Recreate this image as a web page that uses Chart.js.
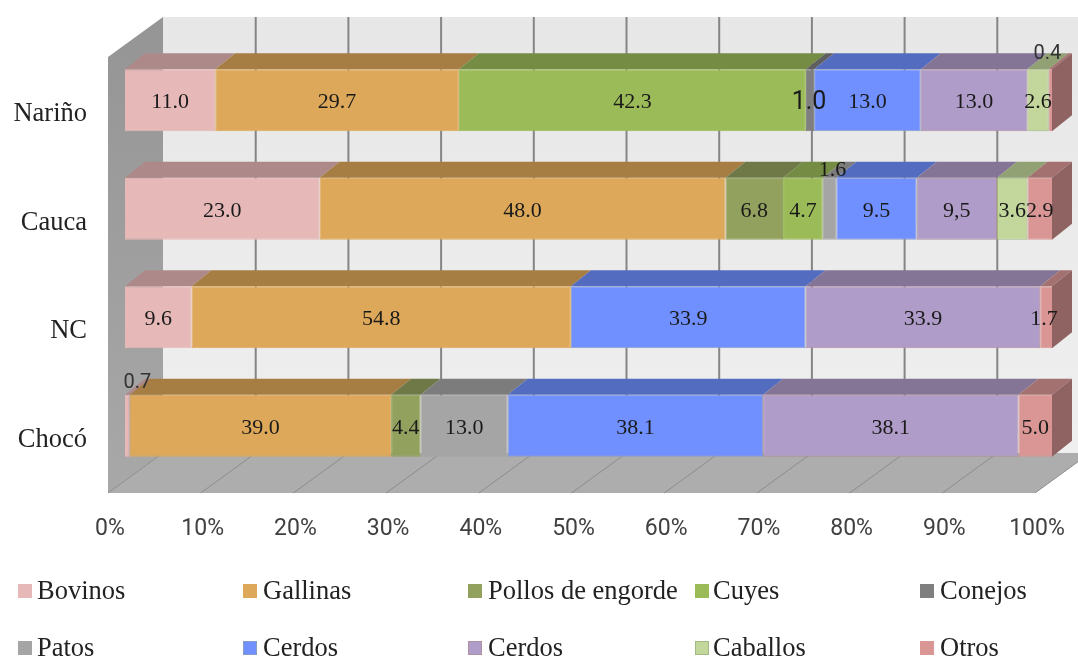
<!DOCTYPE html>
<html>
<head>
<meta charset="utf-8">
<script src="https://cdn.jsdelivr.net/npm/chart.js@4"></script>
<style>
  html, body { margin: 0; padding: 0; background: #fff; overflow: hidden; }
  #wrap { position: relative; width: 1078px; height: 660px; }
  #legend span { position: absolute; font: 26.5px "Liberation Serif", serif; color: #222; line-height: 30px; white-space: nowrap; }
  #legend i { position: absolute; width: 14px; height: 14px; box-sizing: border-box; }
</style>
</head>
<body>
<div id="wrap">
  <canvas id="chart" width="1078" height="660"></canvas>
  <div id="legend"></div>
</div>
<script>
const departments = ['Nariño', 'Cauca', 'NC', 'Chocó'];
const xTicks = [0, 10, 20, 30, 40, 50, 60, 70, 80, 90, 100];

// values as printed on the bars, the bars are 100% stacked per row
const bovinos = [11.0, 23.0, 9.6, 0.7];
const gallinas = [29.7, 48.0, 54.8, 39.0];
const pollos = [0, 6.8, 0, 4.4];
const cuyes = [42.3, 4.7, 0, 0];
const conejos = [1.0, 0, 0, 0];
const patos = [0, 1.6, 0, 13.0];
const cerdos = [13.0, 9.5, 33.9, 38.1];
const cerdos2 = [13.0, 9.5, 33.9, 38.1];
const caballos = [2.6, 3.6, 0, 0];
const otros = [0.4, 2.9, 1.7, 5.0];

const seriesNames = ['Bovinos', 'Gallinas', 'Pollos de engorde', 'Cuyes', 'Conejos', 'Patos', 'Cerdos', 'Cerdos', 'Caballos', 'Otros'];
const seriesValues = [bovinos, gallinas, pollos, cuyes, conejos, patos, cerdos, cerdos2, caballos, otros];
const seriesColors = ['#E6B8B7', '#DDA85A', '#93A15F', '#9BBB59', '#7F7F7F', '#A5A5A5', '#7090FF', '#B09CC8', '#C3D69B', '#D99694'];
const seriesBorders = ['#E6B8B7', '#DDA85A', '#93A15F', '#9BBB59', '#7F7F7F', '#A5A5A5', '#8A9CC8', '#B08F9E', '#A3B87F', '#D99694'];

const rowTotals = departments.map((d, row) => seriesValues.reduce((sum, s) => sum + s[row], 0));

// 3d look of the old office chart
const barDepth = { x: 20, y: 16 };
const wall = { frontX: -17, backX: 38, top: 17, floorFront: 493, floorBack: 453, leftTop: 57 };

function shade(hex, f) {
  const n = parseInt(hex.slice(1), 16);
  const r = Math.round((n >> 16) * f), g = Math.round(((n >> 8) & 255) * f), b = Math.round((n & 255) * f);
  return 'rgb(' + r + ',' + g + ',' + b + ')';
}

function poly(ctx, pts, fill) {
  ctx.beginPath();
  pts.forEach((p, i) => i ? ctx.lineTo(p[0], p[1]) : ctx.moveTo(p[0], p[1]));
  ctx.closePath();
  ctx.fillStyle = fill;
  ctx.fill();
}

const box3d = {
  id: 'box3d',
  beforeDatasetsDraw(chart) {
    const ctx = chart.ctx, x = chart.scales.x;
    const x0 = x.getPixelForValue(0), x1 = x.getPixelForValue(100);

    ctx.save();
    // back wall
    let g = ctx.createLinearGradient(0, wall.top, 0, wall.floorBack);
    g.addColorStop(0, '#E7E7E7');
    g.addColorStop(1, '#EFEFEF');
    poly(ctx, [[x0 + wall.backX, wall.top], [x1 + wall.backX, wall.top], [x1 + wall.backX, wall.floorBack], [x0 + wall.backX, wall.floorBack]], g);
    // left wall
    g = ctx.createLinearGradient(0, wall.top, 0, wall.floorFront);
    g.addColorStop(0, '#959595');
    g.addColorStop(1, '#A8A8A8');
    poly(ctx, [[x0 + wall.frontX, wall.leftTop], [x0 + wall.backX, wall.top], [x0 + wall.backX, wall.floorBack], [x0 + wall.frontX, wall.floorFront]], g);
    // floor
    poly(ctx, [[x0 + wall.frontX, wall.floorFront], [x1 + wall.frontX, wall.floorFront], [x1 + wall.backX, wall.floorBack], [x0 + wall.backX, wall.floorBack]], '#ADADAD');

    // grid lines, wall and floor
    xTicks.forEach(t => {
      const px = x.getPixelForValue(t);
      if (t > 0) {
        ctx.strokeStyle = '#858585';
        ctx.lineWidth = 2;
        ctx.beginPath();
        ctx.moveTo(px + wall.backX, wall.top);
        ctx.lineTo(px + wall.backX, wall.floorBack);
        ctx.stroke();
      }
      ctx.strokeStyle = '#8C8C8C';
      ctx.lineWidth = 1;
      ctx.beginPath();
      ctx.moveTo(px + wall.frontX, wall.floorFront);
      ctx.lineTo(px + wall.backX, wall.floorBack);
      ctx.stroke();
    });

    // top and end faces of the bars
    seriesValues.forEach((s, i) => {
      chart.getDatasetMeta(i).data.forEach((bar, row) => {
        if (!s[row]) return;
        const top = bar.y - bar.height / 2, bottom = bar.y + bar.height / 2;
        poly(ctx, [[bar.base, top], [bar.x, top], [bar.x + barDepth.x, top - barDepth.y], [bar.base + barDepth.x, top - barDepth.y]], shade(seriesColors[i], 0.75));
        const isLast = seriesValues.slice(i + 1).every(v => !v[row]);
        if (isLast) {
          poly(ctx, [[bar.x, top], [bar.x + barDepth.x, top - barDepth.y], [bar.x + barDepth.x, bottom - barDepth.y], [bar.x, bottom]], shade(seriesColors[i], 0.66));
        }
      });
    });
    ctx.restore();
  }
};

const serif22 = '22px "Liberation Serif", serif';
// labels that sit off their segment in the original, key is series:row
const labelTweaks = {
  '4:0': { dx: -1, dy: 0, font: '25px Roboto, sans-serif' },
  '9:0': { dx: -3, dy: -48, font: '20px Roboto, sans-serif', color: '#333' },
  '5:1': { dx: 3, dy: -41, font: '22px "Liberation Serif", serif' },
  '0:3': { dx: 10, dy: -45, font: '20px Roboto, sans-serif', color: '#333' },
  '9:2': { dx: -2 },
  '7:1': { text: '9,5' }
};

const barLabels = {
  id: 'barLabels',
  afterDatasetsDraw(chart) {
    const ctx = chart.ctx;
    ctx.save();
    ctx.textAlign = 'center';
    ctx.textBaseline = 'middle';
    seriesValues.forEach((s, i) => {
      chart.getDatasetMeta(i).data.forEach((bar, row) => {
        if (!s[row]) return;
        const tweak = labelTweaks[i + ':' + row] || {};
        ctx.font = tweak.font || serif22;
        ctx.fillStyle = tweak.color || '#1a1a1a';
        const text = tweak.text || s[row].toFixed(1);
        ctx.fillText(text, (bar.x + bar.base) / 2 + (tweak.dx || 0), bar.y + 2 + (tweak.dy || 0));
      });
    });
    ctx.restore();
  }
};

const chart = new Chart(document.getElementById('chart'), {
  type: 'bar',
  data: {
    labels: departments,
    datasets: seriesValues.map((s, i) => ({
      label: seriesNames[i],
      data: s.map((v, row) => v / rowTotals[row] * 100),
      backgroundColor: seriesColors[i],
      borderColor: seriesBorders[i],
      borderWidth: 1,
      borderSkipped: false,
      categoryPercentage: 1,
      barPercentage: 0.57
    }))
  },
  options: {
    indexAxis: 'y',
    responsive: false,
    animation: false,
    layout: { padding: { left: 0, right: 26, top: 46, bottom: 0 } },
    scales: {
      x: {
        stacked: true,
        min: 0,
        max: 100,
        grid: { display: false },
        border: { display: false },
        afterFit(scale) {
          scale.height = 180;
          scale.paddingLeft = 0;
          scale.paddingRight = 0;
        },
        afterBuildTicks(scale) {
          scale.ticks = xTicks.map(v => ({ value: v }));
        },
        ticks: {
          callback: v => v + '%',
          color: '#404040',
          font: { family: 'Roboto', size: 23 },
          padding: 27,
          labelOffset: -15,
          maxRotation: 0,
          autoSkip: false
        }
      },
      y: {
        stacked: true,
        grid: { display: false },
        border: { display: false },
        afterFit(scale) {
          scale.width = 125;
          scale.paddingTop = 0;
          scale.paddingBottom = 0;
        },
        ticks: {
          color: '#222',
          font: { family: 'Liberation Serif', size: 26.5 },
          padding: 30,
          labelOffset: 14
        }
      }
    },
    plugins: {
      legend: { display: false },
      tooltip: { enabled: false }
    }
  },
  plugins: [box3d, barLabels]
});

// legend in two rows of five like the original
const swatchCols = [18, 243, 468, 695, 920];
const nameCols = [37, 263, 488, 713, 940];
const legendRows = [591, 648];
const legendBox = document.getElementById('legend');
chart.data.datasets.forEach((ds, i) => {
  const col = i % 5, mid = legendRows[Math.floor(i / 5)];
  const swatch = document.createElement('i');
  swatch.style.cssText = 'left:' + swatchCols[col] + 'px;top:' + (mid - 7) + 'px;background:' + ds.backgroundColor + ';border:1px solid ' + ds.borderColor;
  const name = document.createElement('span');
  name.textContent = ds.label;
  name.style.cssText = 'left:' + nameCols[col] + 'px;top:' + (mid - 16) + 'px';
  legendBox.appendChild(swatch);
  legendBox.appendChild(name);
});
</script>
</body>
</html>
